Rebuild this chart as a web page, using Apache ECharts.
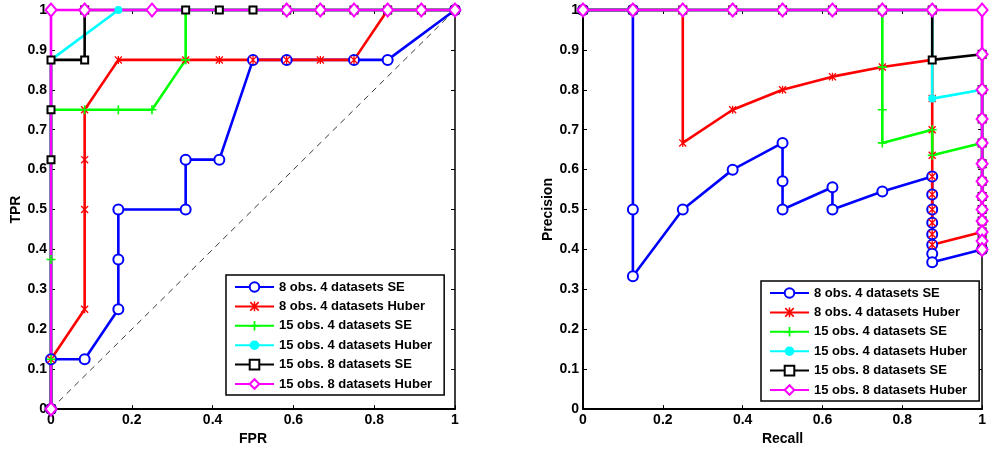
<!DOCTYPE html>
<html>
<head>
<meta charset="utf-8">
<script src="https://cdn.jsdelivr.net/npm/echarts@6/dist/echarts.min.js"></script>
<style>
  html, body { margin: 0; padding: 0; background: #fff; }
  #chart { width: 989px; height: 451px; }
</style>
</head>
<body>
<div id="chart"></div>
<script>
// series names (legend)
const names = [
  '8 obs. 4 datasets SE',
  '8 obs. 4 datasets Huber',
  '15 obs. 4 datasets SE',
  '15 obs. 4 datasets Huber',
  '15 obs. 8 datasets SE',
  '15 obs. 8 datasets Huber'
]
const colors = ['#0000ff', '#ff0000', '#00ff00', '#00ffff', '#000000', '#ff00ff']

// ROC curves: [FPR, TPR]
const rocSE8 = [[0, 0], [0, 0.125], [0.0833, 0.125], [0.1667, 0.25], [0.1667, 0.375], [0.1667, 0.5], [0.3333, 0.5], [0.3333, 0.625], [0.4167, 0.625], [0.5, 0.875], [0.5833, 0.875], [0.75, 0.875], [0.8333, 0.875], [1, 1]]
const rocHuber8 = [[0, 0], [0, 0.125], [0.0833, 0.25], [0.0833, 0.5], [0.0833, 0.625], [0.0833, 0.75], [0.1667, 0.875], [0.3333, 0.875], [0.4167, 0.875], [0.5, 0.875], [0.5833, 0.875], [0.6667, 0.875], [0.75, 0.875], [0.8333, 1], [0.9167, 1], [1, 1]]
const rocSE15 = [[0, 0], [0, 0.125], [0, 0.375], [0, 0.75], [0.0833, 0.75], [0.1667, 0.75], [0.25, 0.75], [0.3333, 0.875], [0.3333, 1], [0.4167, 1], [0.5, 1], [0.5833, 1], [0.6667, 1], [0.75, 1], [0.8333, 1], [0.9167, 1], [1, 1]]
const rocHuber15 = [[0, 0], [0, 0.875], [0.1667, 1], [0.25, 1], [0.3333, 1], [0.4167, 1], [0.5, 1], [0.5833, 1], [0.6667, 1], [0.75, 1], [0.8333, 1], [0.9167, 1], [1, 1]]
const rocSE15x8 = [[0, 0], [0, 0.625], [0, 0.75], [0, 0.875], [0.0833, 0.875], [0.0833, 1], [0.3333, 1], [0.4167, 1], [0.5, 1], [0.5833, 1], [0.6667, 1], [0.75, 1], [0.8333, 1], [0.9167, 1], [1, 1]]
const rocHuber15x8 = [[0, 0], [0, 1], [0.0833, 1], [0.25, 1], [0.5833, 1], [0.6667, 1], [0.75, 1], [0.8333, 1], [0.9167, 1], [1, 1]]
const chance = [[0, 0], [1, 1]]

// precision-recall curves: [Recall, Precision]
const prSE8 = [[0, 1], [0.125, 1], [0.125, 0.5], [0.125, 0.333], [0.25, 0.5], [0.375, 0.6], [0.5, 0.667], [0.5, 0.571], [0.5, 0.5], [0.625, 0.556], [0.625, 0.5], [0.75, 0.545], [0.875, 0.583], [0.875, 0.538], [0.875, 0.5], [0.875, 0.467], [0.875, 0.438], [0.875, 0.412], [0.875, 0.389], [0.875, 0.368], [1, 0.4]]
const prHuber8 = [[0, 1], [0.125, 1], [0.25, 1], [0.25, 0.667], [0.375, 0.75], [0.5, 0.8], [0.625, 0.833], [0.75, 0.857], [0.875, 0.875], [0.875, 0.778], [0.875, 0.7], [0.875, 0.636], [0.875, 0.583], [0.875, 0.538], [0.875, 0.5], [0.875, 0.467], [0.875, 0.438], [0.875, 0.412], [1, 0.444], [1, 0.421], [1, 0.4]]
const prSE15 = [[0, 1], [0.125, 1], [0.25, 1], [0.375, 1], [0.5, 1], [0.625, 1], [0.75, 1], [0.75, 0.857], [0.75, 0.75], [0.75, 0.667], [0.875, 0.7], [0.875, 0.636], [1, 0.667], [1, 0.615], [1, 0.571], [1, 0.533], [1, 0.5], [1, 0.471], [1, 0.444], [1, 0.421], [1, 0.4]]
const prHuber15 = [[0, 1], [0.125, 1], [0.25, 1], [0.375, 1], [0.5, 1], [0.625, 1], [0.75, 1], [0.875, 1], [0.875, 0.875], [0.875, 0.778], [1, 0.8], [1, 0.727], [1, 0.667], [1, 0.615], [1, 0.571], [1, 0.533], [1, 0.5], [1, 0.471], [1, 0.444], [1, 0.421], [1, 0.4]]
const prSE15x8 = [[0, 1], [0.125, 1], [0.25, 1], [0.375, 1], [0.5, 1], [0.625, 1], [0.75, 1], [0.875, 1], [0.875, 0.875], [1, 0.889], [1, 0.8], [1, 0.727], [1, 0.667], [1, 0.615], [1, 0.571], [1, 0.533], [1, 0.5], [1, 0.471], [1, 0.444], [1, 0.421], [1, 0.4]]
const prHuber15x8 = [[0, 1], [0.125, 1], [0.25, 1], [0.375, 1], [0.5, 1], [0.625, 1], [0.75, 1], [0.875, 1], [1, 1], [1, 0.889], [1, 0.8], [1, 0.727], [1, 0.667], [1, 0.615], [1, 0.571], [1, 0.533], [1, 0.5], [1, 0.471], [1, 0.444], [1, 0.421], [1, 0.4]]

const rocData = [rocSE8, rocHuber8, rocSE15, rocHuber15, rocSE15x8, rocHuber15x8]
const prData = [prSE8, prHuber8, prSE15, prHuber15, prSE15x8, prHuber15x8]

const FONT = "'Liberation Sans', Arial, sans-serif"

// marker per series (matlab style)
const asterisk = 'path://M4.2,0H5.8V10H4.2Z M0,1.2L1.2,0L10,8.8L8.8,10Z M8.8,0L10,1.2L1.2,10L0,8.8Z'
const plus = 'path://M4.1,0H5.9V4.1H10V5.9H5.9V10H4.1V5.9H0V4.1H4.1Z'
const markers = [
  { symbol: 'emptyCircle', size: 10, bw: 2.2 },
  { symbol: asterisk, size: 8, bw: 0 },
  { symbol: plus, size: 9, bw: 0 },
  { symbol: 'circle', size: 8, bw: 0 },
  { symbol: 'emptyRect', size: 7, bw: 3 },
  { symbol: 'emptyDiamond', size: [11, 13], bw: 2 }
]

function makeSeries(data, i, axis) {
  const m = markers[i]
  return {
    name: names[i],
    type: 'line',
    xAxisIndex: axis,
    yAxisIndex: axis,
    data: data,
    symbol: m.symbol,
    symbolSize: m.size,
    showAllSymbol: true,
    clip: false,
    animation: false,
    lineStyle: { color: colors[i], width: 2.6 },
    itemStyle: { color: colors[i], borderColor: colors[i], borderWidth: m.bw },
    emphasis: { disabled: true }
  }
}

function mainX(grid, name) {
  return {
    type: 'value', gridIndex: grid, min: 0, max: 1, interval: 0.2,
    name: name, nameLocation: 'middle', nameGap: 22,
    nameTextStyle: { fontFamily: FONT, fontWeight: 'bold', fontSize: 14, color: '#000' },
    axisLine: { show: true, onZero: false, lineStyle: { color: '#000', width: 2 } },
    axisTick: { show: true, inside: true, length: 4, lineStyle: { color: '#000', width: 1 } },
    axisLabel: { fontFamily: FONT, fontWeight: 'bold', fontSize: 14, color: '#000', margin: 4 },
    splitLine: { show: false }
  }
}
function sideX(grid) {
  return {
    type: 'value', gridIndex: grid, position: 'top', min: 0, max: 1, interval: 0.2,
    axisLine: { show: true, onZero: false, lineStyle: { color: '#000', width: 1.5 } },
    axisTick: { show: true, inside: true, length: 4, lineStyle: { color: '#000', width: 1 } },
    axisLabel: { show: false },
    splitLine: { show: false }
  }
}
function mainY(grid, name) {
  return {
    type: 'value', gridIndex: grid, min: 0, max: 1, interval: 0.1,
    name: name, nameLocation: 'middle', nameGap: 28,
    nameTextStyle: { fontFamily: FONT, fontWeight: 'bold', fontSize: 14, color: '#000' },
    axisLine: { show: true, onZero: false, lineStyle: { color: '#000', width: 2 } },
    axisTick: { show: true, inside: true, length: 4, lineStyle: { color: '#000', width: 1 } },
    axisLabel: { fontFamily: FONT, fontWeight: 'bold', fontSize: 14, color: '#000', margin: 4 },
    splitLine: { show: false }
  }
}
function sideY(grid) {
  return {
    type: 'value', gridIndex: grid, position: 'right', min: 0, max: 1, interval: 0.1,
    axisLine: { show: true, onZero: false, lineStyle: { color: '#000', width: 1.5 } },
    axisTick: { show: true, inside: true, length: 4, lineStyle: { color: '#000', width: 1 } },
    axisLabel: { show: false },
    splitLine: { show: false }
  }
}
function makeLegend(left, top) {
  return {
    data: names,
    orient: 'vertical',
    left: left,
    top: top,
    padding: [5, 12, 4, 8],
    itemWidth: 39,
    itemHeight: 12,
    itemGap: 5.4,
    selectedMode: false,
    borderColor: '#000',
    borderWidth: 1.5,
    backgroundColor: '#fff',
    textStyle: { fontFamily: FONT, fontWeight: 'bold', fontSize: 13, color: '#000', lineHeight: 14, padding: [0, 0, 0, 0] }
  }
}

const series = []
rocData.forEach((d, i) => series.push(makeSeries(d, i, 0)))
series.push({
  type: 'line', xAxisIndex: 0, yAxisIndex: 0, data: chance, symbol: 'none',
  silent: true, animation: false, z: 1,
  lineStyle: { color: '#3a3a3a', width: 1, type: [6, 5] }
})
prData.forEach((d, i) => series.push(makeSeries(d, i, 2)))

const chart = echarts.init(document.getElementById('chart'), null, { renderer: 'canvas' })
chart.setOption({
  backgroundColor: '#fff',
  animation: false,
  grid: [
    { left: 51, top: 10, width: 404, height: 403 },
    { left: 583, top: 10, width: 404, height: 403 }
  ],
  xAxis: [mainX(0, 'FPR'), sideX(0), mainX(1, 'Recall'), sideX(1)],
  yAxis: [mainY(0, 'TPR'), sideY(0), mainY(1, 'Precision'), sideY(1)],
  legend: [makeLegend(226, 275), makeLegend(761, 281)],
  series: series
})
</script>
</body>
</html>
